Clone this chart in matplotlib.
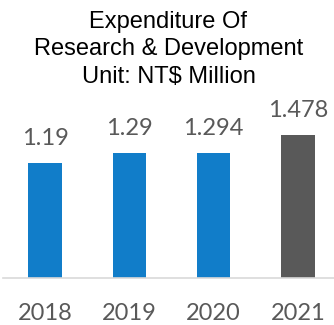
import matplotlib
matplotlib.use("Agg")
import matplotlib.pyplot as plt

years = ["2018", "2019", "2020", "2021"]
spend = [1.19, 1.29, 1.294, 1.478]
value_labels = ["1.19", "1.29", "1.294", "1.478"]
bar_colors = ["#117DC9", "#117DC9", "#117DC9", "#595959"]
title_lines = ["Expenditure Of", "Research & Development", "Unit: NT$ Million"]

W, H = 334, 325
fig = plt.figure(figsize=(W / 100, H / 100), dpi=100)

# plot area: baseline 278px from top, ~96.6 px per unit
ax = fig.add_axes([3 / W, (H - 278) / H, 337 / W, 178 / H])
ax.bar(range(len(years)), spend, width=0.4, color=bar_colors)
ax.set_xlim(-0.5, len(years) - 0.5)
ax.set_ylim(0, 178 / 96.6)

for s in ["top", "left", "right"]:
    ax.spines[s].set_visible(False)
ax.spines["bottom"].set_color("#D9D9D9")
ax.spines["bottom"].set_linewidth(1.2)
ax.set_yticks([])

ax.set_xticks(range(len(years)))
ax.set_xticklabels(years, family="Lato", fontsize=17, color="#595959")
ax.tick_params(axis="x", length=0, pad=30.2)
for lab in ax.get_xticklabels():
    lab.set_va("baseline")

for i, (v, txt) in enumerate(zip(spend, value_labels)):
    ax.annotate(txt, (i, v), xytext=(0, 13), textcoords="offset points",
                ha="center", va="baseline", family="Lato", fontsize=17,
                color="#595959")

for k, line in enumerate(title_lines):
    fig.text(168.5 / W, 1 - (28 + 27.5 * k) / H, line, ha="center",
             va="baseline", family="Liberation Sans", fontsize=17,
             color="black")

fig.savefig("out.png", dpi=100)
